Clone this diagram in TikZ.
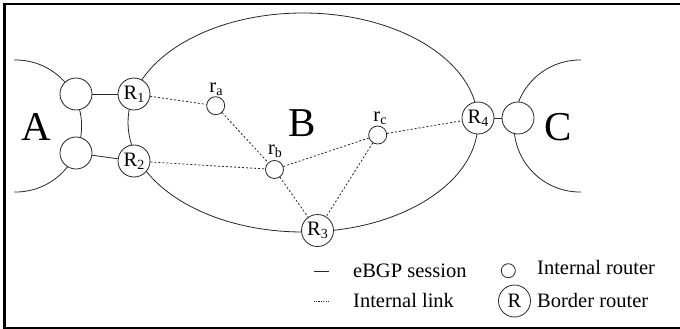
\documentclass[tikz,border=0pt]{standalone}
\usepackage{fontspec}
\setmainfont{Liberation Serif}
\newcommand{\subx}[1]{\raisebox{-3pt}{\fontsize{14}{14}\selectfont #1}}
\begin{document}
\begin{tikzpicture}[x=1pt,y=-1pt,
  lbl/.style={font=\fontsize{20.5}{20.5}\selectfont, inner sep=0pt},
  big/.style={font=\fontsize{41}{41}\selectfont, inner sep=0pt},
  outline/.style={line width=0.8pt, draw=black!85},
  border/.style={circle, outline, fill=white, minimum size=32pt, inner sep=0pt, font=\fontsize{20.5}{20.5}\selectfont},
  ext/.style={circle, outline, fill=white, minimum size=32pt, inner sep=0pt},
  internal/.style={circle, outline, fill=white, minimum size=18pt, inner sep=0pt},
  legendint/.style={circle, outline, fill=white, minimum size=14pt, inner sep=0pt},
  ebgp/.style={outline},
  ilink/.style={outline, dash pattern=on 2pt off 2pt}]
\useasboundingbox (0,0) rectangle (680,329);
% frame (open at the right)
\draw[line width=2.2pt] (680,4.3) -| (4.5,328) -- (680,328);
% AS outlines
\begin{scope}
  \clip (14,0) rectangle (130,329);
  \draw[outline] (15.6,126) circle[radius=66];
\end{scope}
\begin{scope}
  \clip (440,0) rectangle (581,329);
  \draw[outline] (580,126) circle[radius=66];
\end{scope}
\draw[outline] (303,122.5) ellipse[x radius=175, y radius=109.5];
% AS names
\node[big] (nA) at (36.7,126.7) {A};
\node[big] (nB) at (301.7,123.3) {B};
\node[big] (nC) at (558,127) {C};
% routers
\node[ext] (a1) at (76,94) {};
\node[ext] (a2) at (76,153) {};
\node[ext] (c1) at (518,118) {};
\node[border] (R1) at (134,94) {R\subx{1}};
\node[border] (R2) at (134,161) {R\subx{2}};
\node[border] (R3) at (317.5,230.5) {R\subx{3}};
\node[border] (R4) at (478,118) {R\subx{4}};
\node[internal] (ra) at (215.7,105.7) {};
\node[internal] (rb) at (274.5,169.5) {};
\node[internal] (rc) at (377.7,135) {};
\node[lbl] (la) at (216,89.5) {r\subx{a}};
\node[lbl] (lb) at (275,151) {r\subx{b}};
\node[lbl] (lc) at (380,118) {r\subx{c}};
% eBGP sessions
\draw[ebgp] (a1) -- (R1);
\draw[ebgp] (a2) -- (R2);
\draw[ebgp] (R4) -- (c1);
% internal links
\draw[ilink] (R1) -- (ra);
\draw[ilink] (ra) -- (rb);
\draw[ilink] (R2) -- (rb);
\draw[ilink] (rb) -- (R3);
\draw[ilink] (rb) -- (rc);
\draw[ilink] (rc) -- (R3);
\draw[ilink] (rc) -- (R4);
% legend
\coordinate (s1) at (313.5,271.7);
\coordinate (s2) at (329,271.7);
\coordinate (d1) at (313.5,301);
\coordinate (d2) at (329,301);
\draw[ebgp] (s1) -- (s2);
\draw[outline, dash pattern=on 1.2pt off 1.2pt] (d1) -- (d2);
\node[lbl, anchor=base west] (t1) at (353,277) {eBGP session};
\node[lbl, anchor=base west] (t2) at (353,307.3) {Internal link};
\node[legendint] (lgi) at (508.3,270.7) {};
\node[border] (lgb) at (514.5,301) {R};
\node[lbl, anchor=base west] (t3) at (537,274.5) {Internal router};
\node[lbl, anchor=base west] (t4) at (537,307.5) {Border router};
\end{tikzpicture}
\end{document}
